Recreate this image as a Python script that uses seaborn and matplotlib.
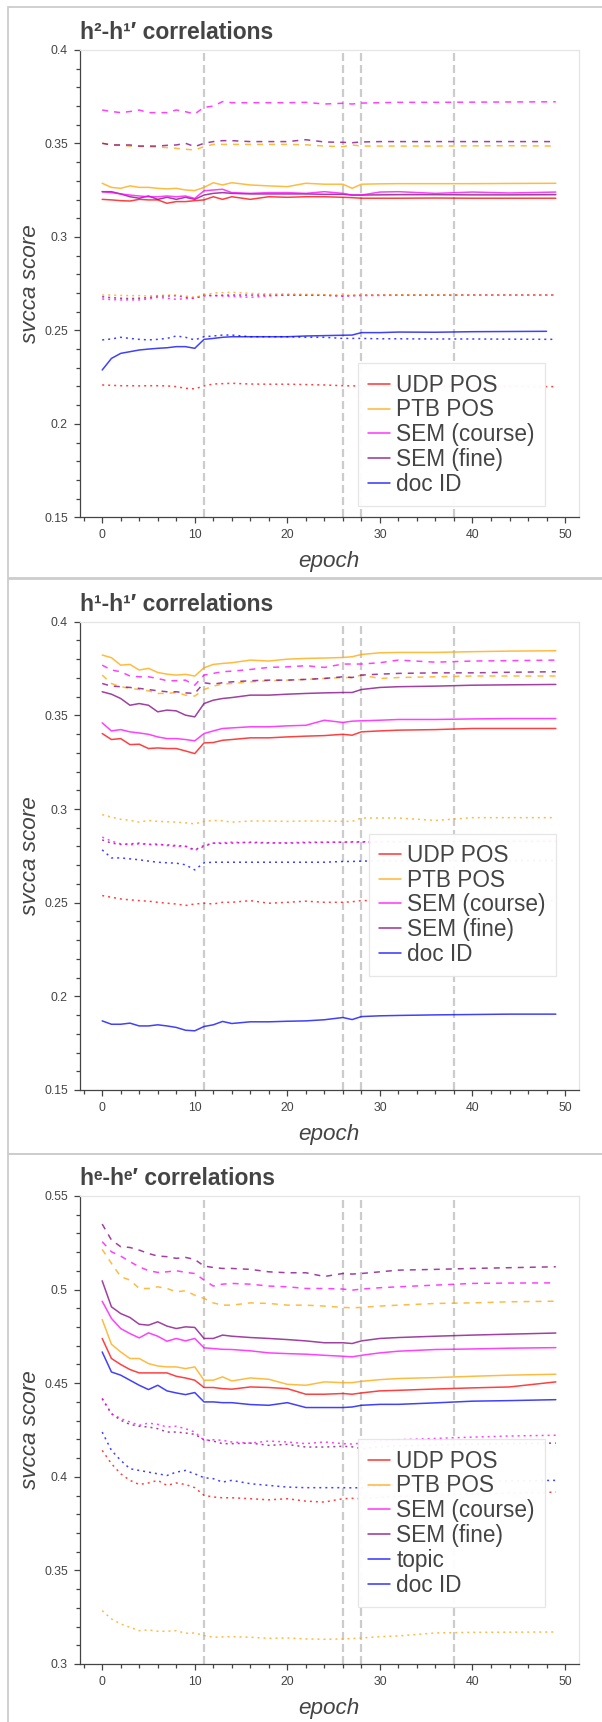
import matplotlib
matplotlib.use('Agg')
import matplotlib.pyplot as plt
import seaborn as sns
from matplotlib.lines import Line2D
from matplotlib.patches import Rectangle
from matplotlib.ticker import MultipleLocator, FixedLocator

sns.set_style('ticks')
plt.rcParams['font.family'] = ['Liberation Sans', 'DejaVu Sans']
plt.rcParams['lines.scale_dashes'] = False

epochs = [0, 1, 2, 3, 4, 5, 6, 7, 8, 9, 10, 11, 12, 13, 14, 16, 18, 20, 22, 24, 26, 27, 28, 30, 32, 36, 40, 44, 49]
epochs_h2_doc = epochs[:-1] + [48]
marks = [11, 26, 28, 38]

# ---- h2-h1' ----
h2_udp = [0.3201,0.3198,0.3194,0.3192,0.3201,0.3198,0.3198,0.3180,0.3189,0.3189,0.3194,0.3198,0.3215,0.3201,0.3215,0.3201,0.3215,0.3212,0.3215,0.3215,0.3212,0.3210,0.3207,0.3207,0.3207,0.3208,0.3207,0.3207,0.3207]
h2_ptb = [0.3287,0.3265,0.3260,0.3273,0.3265,0.3265,0.3260,0.3257,0.3260,0.3251,0.3248,0.3265,0.3290,0.3278,0.3290,0.3278,0.3273,0.3269,0.3287,0.3282,0.3282,0.3260,0.3282,0.3284,0.3285,0.3285,0.3285,0.3286,0.3287]
h2_semc = [0.3242,0.3237,0.3230,0.3224,0.3219,0.3215,0.3215,0.3219,0.3215,0.3219,0.3206,0.3247,0.3251,0.3255,0.3237,0.3233,0.3237,0.3237,0.3233,0.3242,0.3233,0.3224,0.3224,0.3240,0.3242,0.3233,0.3240,0.3235,0.3240]
h2_semf = [0.3242,0.3242,0.3230,0.3215,0.3207,0.3219,0.3201,0.3212,0.3201,0.3212,0.3201,0.3224,0.3233,0.3237,0.3233,0.3230,0.3230,0.3230,0.3230,0.3228,0.3228,0.3224,0.3224,0.3225,0.3226,0.3226,0.3225,0.3225,0.3226]
h2_doc = [0.2288,0.2350,0.2377,0.2386,0.2395,0.2400,0.2404,0.2407,0.2413,0.2413,0.2404,0.2452,0.2457,0.2463,0.2466,0.2466,0.2466,0.2466,0.2470,0.2472,0.2474,0.2475,0.2488,0.2488,0.2491,0.2490,0.2493,0.2494,0.2495]
h2_ptb_dash = [0.3501,0.3492,0.3490,0.3486,0.3485,0.3483,0.3481,0.3478,0.3474,0.3469,0.3465,0.3483,0.3495,0.3495,0.3495,0.3495,0.3495,0.3495,0.3493,0.3486,0.3483,0.3492,0.3486,0.3486,0.3486,0.3486,0.3487,0.3488,0.3486]
h2_semf_dash = [0.3501,0.3492,0.3492,0.3492,0.3486,0.3486,0.3486,0.3490,0.3492,0.3501,0.3483,0.3501,0.3510,0.3515,0.3515,0.3510,0.3510,0.3510,0.3520,0.3508,0.3506,0.3504,0.3508,0.3510,0.3510,0.3510,0.3510,0.3510,0.3510]
h2_semc_dash = [0.3679,0.3671,0.3665,0.3671,0.3679,0.3665,0.3665,0.3665,0.3679,0.3670,0.3658,0.3693,0.3700,0.3724,0.3718,0.3718,0.3718,0.3718,0.3720,0.3711,0.3715,0.3711,0.3716,0.3718,0.3720,0.3720,0.3721,0.3722,0.3723]
h2_ptb_dot = [0.2689,0.2689,0.2687,0.2686,0.2686,0.2684,0.2686,0.2689,0.2689,0.2684,0.2677,0.2689,0.2700,0.2702,0.2704,0.2698,0.2695,0.2695,0.2693,0.2691,0.2689,0.2689,0.2689,0.2689,0.2690,0.2690,0.2689,0.2689,0.2689]
h2_semc_dot = [0.2668,0.2665,0.2663,0.2663,0.2663,0.2668,0.2677,0.2672,0.2666,0.2670,0.2672,0.2684,0.2686,0.2684,0.2682,0.2677,0.2684,0.2689,0.2689,0.2688,0.2684,0.2686,0.2686,0.2687,0.2688,0.2688,0.2689,0.2689,0.2689]
h2_semf_dot = [0.2680,0.2675,0.2672,0.2670,0.2672,0.2675,0.2684,0.2684,0.2686,0.2677,0.2672,0.2689,0.2686,0.2688,0.2689,0.2689,0.2689,0.2689,0.2688,0.2688,0.2684,0.2686,0.2688,0.2689,0.2689,0.2689,0.2689,0.2689,0.2689]
h2_doc_dot = [0.2449,0.2454,0.2463,0.2457,0.2452,0.2449,0.2452,0.2457,0.2470,0.2463,0.2449,0.2466,0.2470,0.2475,0.2475,0.2466,0.2466,0.2466,0.2463,0.2463,0.2457,0.2457,0.2457,0.2455,0.2455,0.2454,0.2454,0.2453,0.2452]
h2_udp_dot = [0.2208,0.2206,0.2204,0.2204,0.2203,0.2204,0.2204,0.2203,0.2199,0.2190,0.2187,0.2203,0.2213,0.2215,0.2217,0.2213,0.2212,0.2212,0.2210,0.2208,0.2204,0.2203,0.2203,0.2202,0.2202,0.2201,0.2200,0.2200,0.2199]

# ---- h1-h1' ----
h1_udp = [0.3403,0.3371,0.3376,0.3344,0.3346,0.3323,0.3326,0.3323,0.3323,0.3310,0.3296,0.3353,0.3355,0.3367,0.3371,0.3380,0.3380,0.3385,0.3389,0.3392,0.3399,0.3394,0.3412,0.3417,0.3421,0.3424,0.3430,0.3430,0.3430]
h1_ptb = [0.3822,0.3808,0.3768,0.3772,0.3742,0.3751,0.3729,0.3720,0.3715,0.3719,0.3710,0.3754,0.3772,0.3777,0.3781,0.3795,0.3790,0.3800,0.3804,0.3806,0.3809,0.3813,0.3825,0.3834,0.3836,0.3836,0.3840,0.3843,0.3845]
h1_semc = [0.3460,0.3417,0.3424,0.3412,0.3406,0.3399,0.3385,0.3376,0.3376,0.3371,0.3364,0.3403,0.3417,0.3430,0.3433,0.3439,0.3439,0.3444,0.3447,0.3474,0.3462,0.3469,0.3471,0.3474,0.3478,0.3478,0.3481,0.3483,0.3483]
h1_semf = [0.3626,0.3613,0.3590,0.3554,0.3563,0.3554,0.3519,0.3528,0.3524,0.3501,0.3492,0.3563,0.3581,0.3590,0.3595,0.3608,0.3608,0.3613,0.3617,0.3620,0.3622,0.3622,0.3638,0.3649,0.3653,0.3656,0.3661,0.3663,0.3665]
h1_doc = [0.1869,0.1851,0.1851,0.1857,0.1842,0.1842,0.1848,0.1842,0.1834,0.1819,0.1816,0.1839,0.1848,0.1866,0.1855,0.1864,0.1864,0.1867,0.1869,0.1875,0.1887,0.1876,0.1892,0.1896,0.1898,0.1901,0.1903,0.1905,0.1905]
h1_ptb_dash = [0.3715,0.3670,0.3653,0.3644,0.3638,0.3631,0.3617,0.3617,0.3622,0.3608,0.3603,0.3638,0.3656,0.3667,0.3670,0.3679,0.3685,0.3688,0.3692,0.3697,0.3702,0.3702,0.3715,0.3697,0.3702,0.3706,0.3710,0.3710,0.3710]
h1_semf_dash = [0.3670,0.3656,0.3653,0.3649,0.3644,0.3638,0.3631,0.3626,0.3626,0.3620,0.3617,0.3674,0.3667,0.3674,0.3679,0.3685,0.3688,0.3688,0.3692,0.3697,0.3706,0.3702,0.3715,0.3720,0.3724,0.3727,0.3727,0.3730,0.3733]
h1_semc_dash = [0.3768,0.3742,0.3733,0.3710,0.3706,0.3706,0.3697,0.3685,0.3685,0.3688,0.3661,0.3715,0.3724,0.3733,0.3736,0.3745,0.3756,0.3759,0.3765,0.3756,0.3774,0.3774,0.3774,0.3781,0.3795,0.3784,0.3790,0.3792,0.3795]
h1_ptb_dot = [0.2970,0.2957,0.2945,0.2940,0.2930,0.2939,0.2934,0.2932,0.2930,0.2926,0.2921,0.2934,0.2939,0.2937,0.2930,0.2936,0.2936,0.2934,0.2936,0.2936,0.2934,0.2934,0.2952,0.2952,0.2952,0.2939,0.2954,0.2954,0.2954]
h1_semc_dot = [0.2850,0.2829,0.2814,0.2809,0.2814,0.2811,0.2814,0.2805,0.2800,0.2800,0.2779,0.2800,0.2818,0.2820,0.2823,0.2820,0.2818,0.2820,0.2823,0.2823,0.2823,0.2823,0.2823,0.2825,0.2826,0.2827,0.2827,0.2828,0.2828]
h1_semf_dot = [0.2835,0.2818,0.2811,0.2814,0.2818,0.2811,0.2809,0.2809,0.2805,0.2802,0.2782,0.2805,0.2818,0.2816,0.2818,0.2823,0.2820,0.2818,0.2820,0.2822,0.2823,0.2825,0.2825,0.2826,0.2826,0.2827,0.2827,0.2827,0.2827]
h1_doc_dot = [0.2782,0.2739,0.2739,0.2734,0.2729,0.2722,0.2716,0.2713,0.2711,0.2702,0.2675,0.2713,0.2716,0.2716,0.2716,0.2716,0.2716,0.2716,0.2716,0.2716,0.2720,0.2720,0.2722,0.2723,0.2723,0.2724,0.2724,0.2725,0.2725]
h1_udp_dot = [0.2538,0.2529,0.2520,0.2515,0.2511,0.2508,0.2502,0.2497,0.2493,0.2485,0.2493,0.2497,0.2493,0.2502,0.2502,0.2511,0.2497,0.2502,0.2508,0.2502,0.2502,0.2505,0.2511,0.2511,0.2511,0.2511,0.2511,0.2511,0.2511]

# ---- he-he' ----
he_udp = [0.4739,0.4632,0.4600,0.4573,0.4555,0.4555,0.4555,0.4555,0.4537,0.4528,0.4516,0.4477,0.4477,0.4471,0.4468,0.4480,0.4477,0.4471,0.4441,0.4441,0.4445,0.4441,0.4448,0.4459,0.4462,0.4469,0.4475,0.4480,0.4507]
he_ptb = [0.4840,0.4708,0.4667,0.4632,0.4632,0.4605,0.4592,0.4587,0.4587,0.4578,0.4587,0.4516,0.4516,0.4534,0.4512,0.4528,0.4521,0.4494,0.4489,0.4507,0.4503,0.4503,0.4510,0.4519,0.4525,0.4530,0.4537,0.4543,0.4548]
he_semc = [0.4938,0.4846,0.4792,0.4765,0.4742,0.4769,0.4751,0.4724,0.4739,0.4726,0.4739,0.4689,0.4685,0.4681,0.4680,0.4673,0.4662,0.4658,0.4655,0.4649,0.4644,0.4641,0.4649,0.4662,0.4671,0.4680,0.4683,0.4687,0.4690]
he_semf = [0.5047,0.4908,0.4872,0.4851,0.4815,0.4810,0.4828,0.4805,0.4792,0.4801,0.4798,0.4739,0.4739,0.4757,0.4751,0.4744,0.4739,0.4733,0.4726,0.4716,0.4716,0.4712,0.4726,0.4739,0.4744,0.4751,0.4757,0.4762,0.4768]
he_topic = [0.4667,0.4560,0.4543,0.4516,0.4489,0.4466,0.4489,0.4459,0.4448,0.4439,0.4450,0.4400,0.4400,0.4396,0.4396,0.4386,0.4382,0.4396,0.4370,0.4370,0.4370,0.4373,0.4382,0.4387,0.4387,0.4395,0.4404,0.4407,0.4412]
he_semf_dash = [0.5350,0.5265,0.5229,0.5225,0.5211,0.5193,0.5179,0.5176,0.5167,0.5172,0.5161,0.5126,0.5118,0.5113,0.5113,0.5108,0.5095,0.5090,0.5090,0.5070,0.5086,0.5083,0.5086,0.5095,0.5104,0.5108,0.5113,0.5117,0.5122]
he_semc_dash = [0.5256,0.5202,0.5179,0.5149,0.5122,0.5101,0.5092,0.5095,0.5101,0.5092,0.5086,0.5051,0.5019,0.5029,0.5033,0.5029,0.5019,0.5015,0.5006,0.5006,0.5003,0.4997,0.5003,0.5010,0.5015,0.5024,0.5033,0.5035,0.5036]
he_ptb_dash = [0.5215,0.5140,0.5069,0.5051,0.5006,0.5006,0.5015,0.5006,0.4988,0.4994,0.4970,0.4953,0.4929,0.4917,0.4917,0.4929,0.4926,0.4917,0.4917,0.4912,0.4905,0.4903,0.4905,0.4912,0.4917,0.4926,0.4929,0.4935,0.4938]
he_semc_dot = [0.4418,0.4337,0.4311,0.4293,0.4275,0.4287,0.4280,0.4266,0.4270,0.4257,0.4239,0.4195,0.4198,0.4195,0.4186,0.4180,0.4191,0.4186,0.4177,0.4186,0.4177,0.4175,0.4180,0.4190,0.4198,0.4205,0.4212,0.4218,0.4222]
he_semf_dot = [0.4418,0.4337,0.4302,0.4280,0.4270,0.4266,0.4257,0.4239,0.4239,0.4234,0.4227,0.4198,0.4191,0.4177,0.4177,0.4180,0.4168,0.4173,0.4159,0.4159,0.4163,0.4160,0.4151,0.4160,0.4165,0.4170,0.4175,0.4178,0.4180]
he_topic_dot = [0.4239,0.4141,0.4088,0.4043,0.4034,0.4025,0.4016,0.4007,0.4025,0.4034,0.4016,0.3995,0.3990,0.3972,0.3981,0.3963,0.3954,0.3945,0.3942,0.3942,0.3942,0.3941,0.3942,0.3950,0.3958,0.3966,0.3973,0.3978,0.3981]
he_udp_dot = [0.4141,0.4070,0.4016,0.3981,0.3959,0.3967,0.3981,0.3954,0.3967,0.3959,0.3942,0.3901,0.3892,0.3888,0.3888,0.3883,0.3877,0.3883,0.3870,0.3865,0.3883,0.3885,0.3883,0.3890,0.3895,0.3903,0.3908,0.3913,0.3918]
he_ptb_dot = [0.3285,0.3241,0.3214,0.3196,0.3178,0.3182,0.3175,0.3175,0.3178,0.3164,0.3166,0.3152,0.3143,0.3145,0.3146,0.3143,0.3137,0.3139,0.3134,0.3132,0.3134,0.3136,0.3139,0.3146,0.3150,0.3166,0.3169,0.3170,0.3171]

labels = ['UDP POS', 'PTB POS', 'SEM (course)', 'SEM (fine)', 'doc ID']
labels_e = ['UDP POS', 'PTB POS', 'SEM (course)', 'SEM (fine)', 'topic', 'doc ID']
colors = {'UDP POS': '#ff0000', 'PTB POS': '#ffa500', 'SEM (course)': '#ff00ff',
          'SEM (fine)': '#800080', 'topic': '#0000ff', 'doc ID': '#0000ff'}
px = 0.72  # one pixel in points
styles = {'solid': '-', 'dash': (0, (6 * px, 6 * px)), 'dot': (0, (2 * px, 4 * px))}
grey = '#444444'

panels = [
    dict(title='h²-h¹′ correlations', ylim=(0.15, 0.4),
         yticks=[0.15, 0.2, 0.25, 0.3, 0.35, 0.4], ylabels=['0.15', '0.2', '0.25', '0.3', '0.35', '0.4'],
         legend=labels, anchor=(0.933, 0.024),
         lines=[(h2_udp_dot, 'UDP POS', 'dot'), (h2_doc_dot, 'doc ID', 'dot'),
                (h2_semf_dot, 'SEM (fine)', 'dot'), (h2_semc_dot, 'SEM (course)', 'dot'), (h2_ptb_dot, 'PTB POS', 'dot'),
                (h2_ptb_dash, 'PTB POS', 'dash'), (h2_semf_dash, 'SEM (fine)', 'dash'), (h2_semc_dash, 'SEM (course)', 'dash'),
                (h2_udp, 'UDP POS', 'solid'), (h2_semf, 'SEM (fine)', 'solid'), (h2_semc, 'SEM (course)', 'solid'),
                (h2_ptb, 'PTB POS', 'solid'), (h2_doc, 'doc ID', 'solid')],
         box=(6.7, 578.3), axpix=(50.0, 517.3)),
    dict(title='h¹-h¹′ correlations', ylim=(0.15, 0.4),
         yticks=[0.15, 0.2, 0.25, 0.3, 0.35, 0.4], ylabels=['0.15', '0.2', '0.25', '0.3', '0.35', '0.4'],
         legend=labels, anchor=(0.955, 0.243),
         lines=[(h1_udp_dot, 'UDP POS', 'dot'), (h1_doc_dot, 'doc ID', 'dot'),
                (h1_semf_dot, 'SEM (fine)', 'dot'), (h1_semc_dot, 'SEM (course)', 'dot'), (h1_ptb_dot, 'PTB POS', 'dot'),
                (h1_ptb_dash, 'PTB POS', 'dash'), (h1_semf_dash, 'SEM (fine)', 'dash'), (h1_semc_dash, 'SEM (course)', 'dash'),
                (h1_udp, 'UDP POS', 'solid'), (h1_semc, 'SEM (course)', 'solid'), (h1_semf, 'SEM (fine)', 'solid'),
                (h1_ptb, 'PTB POS', 'solid'), (h1_doc, 'doc ID', 'solid')],
         box=(579.3, 1154.0), axpix=(621.7, 1090.0)),
    dict(title='hᵉ-hᵉ′ correlations', ylim=(0.3, 0.55),
         yticks=[0.3, 0.35, 0.4, 0.45, 0.5, 0.55], ylabels=['0.3', '0.35', '0.4', '0.45', '0.5', '0.55'],
         legend=labels_e, anchor=(0.933, 0.122),
         lines=[(he_ptb_dot, 'PTB POS', 'dot'), (he_udp_dot, 'UDP POS', 'dot'), (he_topic_dot, 'topic', 'dot'),
                (he_semf_dot, 'SEM (fine)', 'dot'), (he_semc_dot, 'SEM (course)', 'dot'),
                (he_ptb_dash, 'PTB POS', 'dash'), (he_semc_dash, 'SEM (course)', 'dash'), (he_semf_dash, 'SEM (fine)', 'dash'),
                (he_topic, 'topic', 'solid'), (he_udp, 'UDP POS', 'solid'), (he_ptb, 'PTB POS', 'solid'),
                (he_semc, 'SEM (course)', 'solid'), (he_semf, 'SEM (fine)', 'solid')],
         box=(1153.6, 1730.0), axpix=(1196.0, 1664.0)),
]

W, H = 602, 1722
fig = plt.figure(figsize=(W / 100, H / 100), dpi=100)

for p in panels:
    top, bot = p['axpix']
    ax = fig.add_axes([79.5 / W, (H - bot) / H, 499 / W, (bot - top) / H])
    # panel frame
    b0, b1 = p['box']
    fig.add_artist(Rectangle((7.7 / W, (H - b1) / H), 1.2, (b1 - b0) / H, transform=fig.transFigure,
                             fill=False, edgecolor='#cdcdcd', lw=1.3, clip_on=False))

    for m in marks:
        ax.axvline(m, color='#cccccc', lw=1.6, linestyle=(0, (8 * px, 4 * px)), zorder=1)

    for vals, lab, st in p['lines']:
        xs = epochs_h2_doc if vals is h2_doc else epochs
        sns.lineplot(x=xs, y=vals, ax=ax, color=colors[lab], linestyle=styles[st],
                     lw=1.1, alpha=0.75, errorbar=None, zorder=2)

    ax.set_xlim(-2.45, 51.45)
    ax.set_ylim(*p['ylim'])
    ax.set_xticks(range(0, 51, 10))
    ax.set_xticklabels([str(t) for t in range(0, 51, 10)])
    ax.xaxis.set_minor_locator(FixedLocator(list(range(-2, 51, 2))))
    ax.set_yticks(p['yticks'])
    ax.set_yticklabels(p['ylabels'])
    ax.yaxis.set_minor_locator(MultipleLocator(0.01))
    ax.tick_params(which='major', direction='out', length=6 * px, width=0.9, color=grey,
                   labelcolor=grey, labelsize=8.8, pad=4)
    ax.tick_params(which='minor', direction='out', length=4 * px, width=0.9, color=grey)
    for s in ['left', 'bottom']:
        ax.spines[s].set_color(grey)
        ax.spines[s].set_linewidth(0.9)
    for s in ['top', 'right']:
        ax.spines[s].set_visible(True)
        ax.spines[s].set_color('#e5e5e5')
        ax.spines[s].set_linewidth(0.9)
    ax.set_xlabel('')
    ax.set_ylabel('')

    ax.annotate(p['title'], xy=(0, 1), xycoords='axes fraction', xytext=(0, 8),
                textcoords='offset points', ha='left', va='baseline',
                fontsize=16.5, fontweight='bold', color=grey)
    ax.annotate('epoch', xy=(0.5, 0), xycoords='axes fraction', xytext=(0, -36),
                textcoords='offset points', ha='center', va='baseline',
                fontsize=16.2, style='italic', color=grey)
    ax.annotate('svcca score', xy=(0, 0.5), xycoords='axes fraction', xytext=(-35.5, 0),
                textcoords='offset points', ha='center', va='center', rotation=90,
                fontsize=16.2, style='italic', color=grey)

    handles = [Line2D([], [], color=colors[l], lw=1.1, alpha=0.8) for l in p['legend']]
    leg = ax.legend(handles, p['legend'], loc='lower right', bbox_to_anchor=p['anchor'],
                    borderaxespad=0, fontsize=16.3, frameon=True, fancybox=False,
                    edgecolor='#e5e5e5', framealpha=0.95, borderpad=0.45,
                    handlelength=0.97, handletextpad=0.27, labelspacing=0.08, labelcolor=grey)
    leg.get_frame().set_linewidth(0.9)

fig.savefig('out.png', dpi=100)
